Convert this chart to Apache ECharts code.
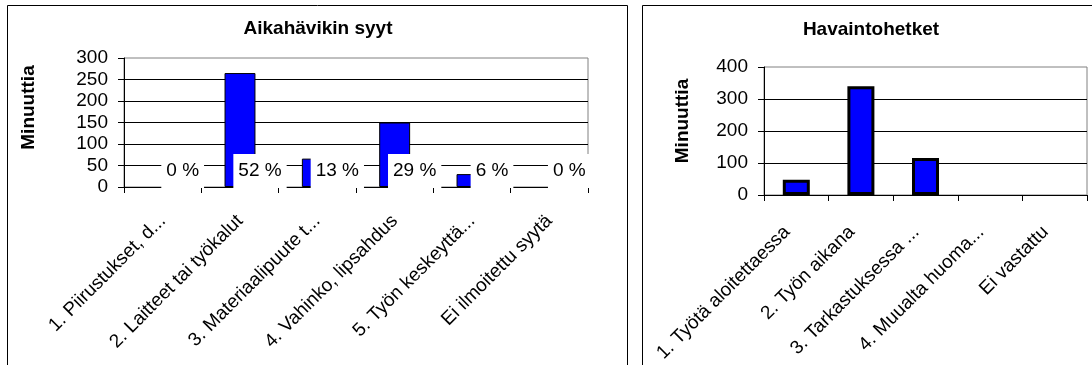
<!DOCTYPE html>
<html><head><meta charset="utf-8">
<script src="https://cdn.jsdelivr.net/npm/echarts@6/dist/echarts.min.js"></script>
<style>html,body{margin:0;padding:0;background:#fff}#c{width:1092px;height:365px}</style>
</head><body><div id="c"></div>
<script>
// ---- data ----
const causeTitle = 'Aikahävikin syyt';
const causeCategories = ['1. Piirustukset, d...', '2. Laitteet tai työkalut', '3. Materiaalipuute t...', '4. Vahinko, lipsahdus', '5. Työn keskeyttä...', 'Ei ilmoitettu syytä'];
const causeMinutes = [0, 265, 66, 150, 30, 0];
const causePercents = ['0 %', '52 %', '13 %', '29 %', '6 %', '0 %'];
const causeAxisMax = 300;
const causeAxisStep = 50;

const momentTitle = 'Havaintohetket';
const momentCategories = ['1. Työtä aloitettaessa', '2. Työn aikana', '3. Tarkastuksessa ...', '4. Muualta huoma...', 'Ei vastattu'];
const momentMinutes = [48, 340, 116, 0, 0];
const momentAxisMax = 400;
const momentAxisStep = 100;

const yName = 'Minuuttia';

// ---- styling ----
const FONT = "'Liberation Sans', Arial, sans-serif";
const FS = 19;

function xAxisCfg(grid, cats, margin, padRight) {
  return {
    type: 'category', gridIndex: grid, data: cats,
    axisLine: { lineStyle: { color: '#000', width: 1 } },
    axisTick: { show: true, length: 6, lineStyle: { color: '#000' } },
    axisLabel: { rotate: 45, margin: margin, interval: 0, fontSize: FS, color: '#000', fontFamily: FONT,
                 padding: [0, padRight, 0, 0] },
    splitLine: { show: false }
  };
}
function yAxisCfg(grid, max, step, gap, shift) {
  return {
    type: 'value', gridIndex: grid, min: 0, max: max, interval: step,
    name: yName, nameLocation: 'middle', nameGap: gap,
    nameTextStyle: { fontWeight: 'bold', fontSize: FS, color: '#000', fontFamily: FONT, padding: [0, 0, 0, shift] },
    axisLine: { show: true, lineStyle: { color: '#000', width: 1 } },
    axisTick: { show: true, length: 6, lineStyle: { color: '#000' } },
    axisLabel: { margin: 16, fontSize: FS, color: '#000', fontFamily: FONT },
    splitLine: { show: true, showMaxLine: false, lineStyle: { color: '#000', width: 1 } }
  };
}
// zero-height bars get no outline (nothing is drawn for them in the reference)
function barItems(values) {
  return values.map(v => v === 0 ? { value: v, itemStyle: { borderWidth: 0 } } : v);
}

const chart = echarts.init(document.getElementById('c'), null, { renderer: 'canvas' });
chart.setOption({
  animation: false,
  backgroundColor: '#fff',
  textStyle: { fontFamily: FONT },
  title: [
    { text: causeTitle, left: 318, top: 19, textAlign: 'center', padding: 0,
      textStyle: { fontSize: FS, fontWeight: 'bold', color: '#000', fontFamily: FONT } },
    { text: momentTitle, left: 871, top: 20, textAlign: 'center', padding: 0,
      textStyle: { fontSize: FS, fontWeight: 'bold', color: '#000', fontFamily: FONT } }
  ],
  graphic: [
    { type: 'rect', silent: true, shape: { x: 7.5, y: 5.5, width: 620, height: 420 }, style: { fill: 'none', stroke: '#000', lineWidth: 1 } },
    { type: 'rect', silent: true, shape: { x: 642.5, y: 5.5, width: 520, height: 420 }, style: { fill: 'none', stroke: '#000', lineWidth: 1 } }
  ],
  grid: [
    { left: 124, top: 58, width: 464, height: 129, show: true, borderColor: '#808080', borderWidth: 1, backgroundColor: 'transparent' },
    { left: 764, top: 67, width: 323, height: 129, show: true, borderColor: '#808080', borderWidth: 1, backgroundColor: 'transparent' }
  ],
  xAxis: [xAxisCfg(0, causeCategories, 31, 0), xAxisCfg(1, momentCategories, 25, 13)],
  yAxis: [yAxisCfg(0, causeAxisMax, causeAxisStep, 86, 30), yAxisCfg(1, momentAxisMax, momentAxisStep, 72, 20)],
  series: [
    {
      type: 'bar', xAxisIndex: 0, yAxisIndex: 0, data: barItems(causeMinutes), barWidth: '40%',
      itemStyle: { color: '#0000FF', borderColor: '#000', borderWidth: 1 },
      label: {
        show: true, position: 'insideBottom', distance: -1, offset: [20, 0],
        formatter: p => causePercents[p.dataIndex],
        backgroundColor: '#fff', padding: [6, 5, 6, 5], fontSize: FS, lineHeight: 22,
        color: '#000', fontFamily: FONT
      }
    },
    {
      type: 'bar', xAxisIndex: 1, yAxisIndex: 1, data: barItems(momentMinutes), barWidth: 27,
      itemStyle: { color: '#0000FF', borderColor: '#000', borderWidth: 3 }
    }
  ]
});
</script>
</body></html>
